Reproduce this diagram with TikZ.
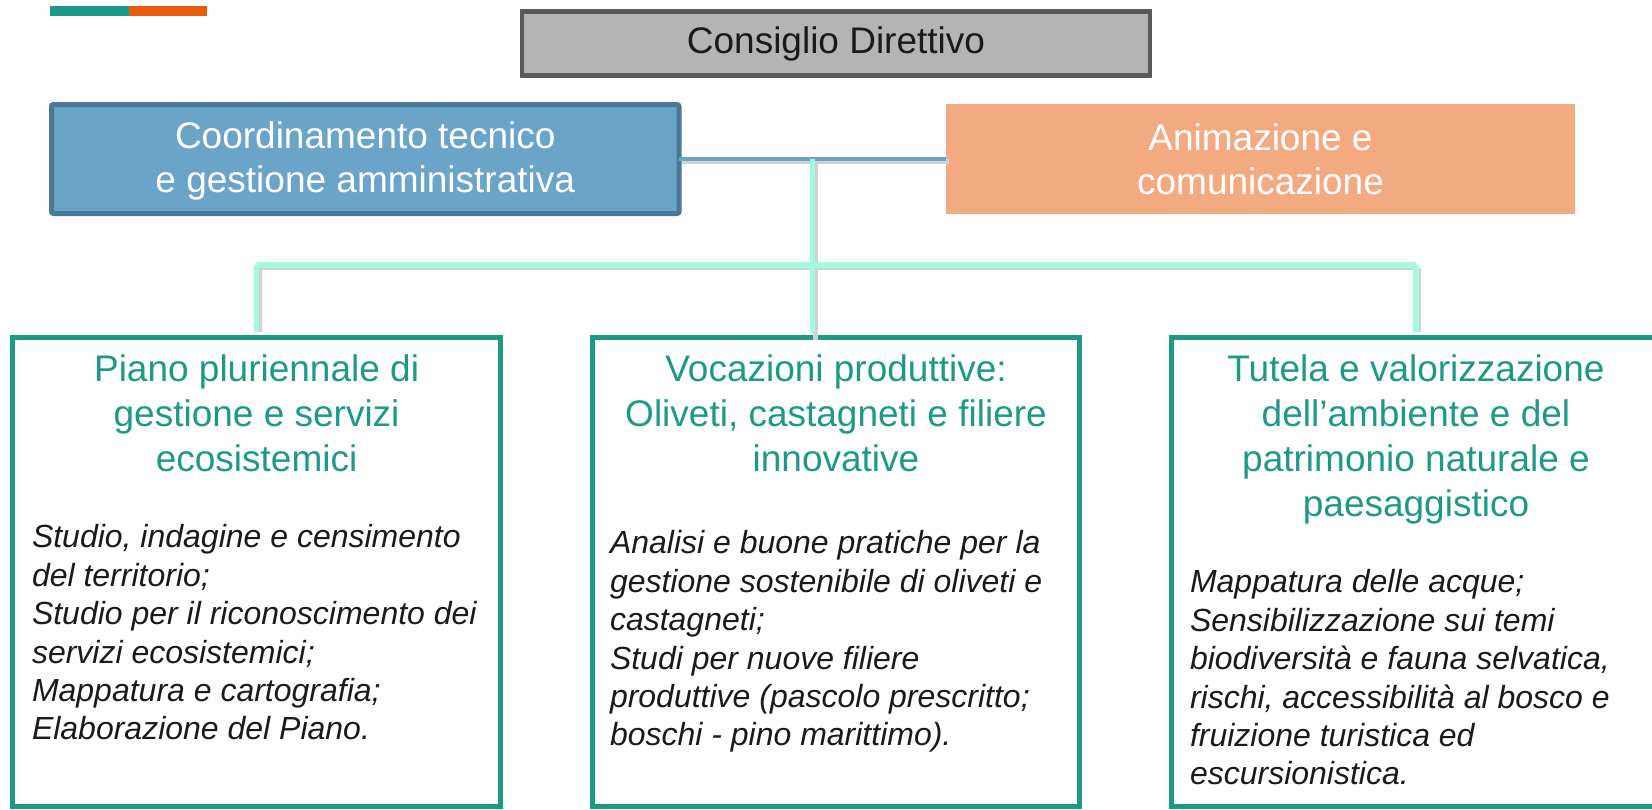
\documentclass[tikz,border=0pt]{standalone}
\usepackage{fontspec}
\setmainfont{Liberation Sans}
\definecolor{barteal}{HTML}{1A9A8B}
\definecolor{barorange}{HTML}{E95A0A}
\definecolor{cdfill}{HTML}{B4B4B4}
\definecolor{cdborder}{HTML}{5A5A5A}
\definecolor{ctfill}{HTML}{6AA4C8}
\definecolor{ctborder}{HTML}{4B7894}
\definecolor{acfill}{HTML}{F3AA80}
\definecolor{mint}{HTML}{A0FBE0}
\definecolor{teal}{HTML}{1E9986}
\definecolor{ink}{HTML}{1A1A1A}
\begin{document}
\begin{tikzpicture}[x=1pt,y=-1pt,
  every node/.style={inner sep=0pt,outer sep=0pt},
  cdbox/.style={draw=cdborder,fill=cdfill,line width=4.5pt,minimum width=628pt,minimum height=64pt,
    font=\fontsize{37}{44}\selectfont,text=ink},
  topbox/.style={minimum height=110pt,align=center,text=white,font=\fontsize{37}{44}\selectfont},
  ctbox/.style={topbox,draw=ctborder,fill=ctfill,line width=5pt,rounded corners=2pt,minimum width=627.5pt,minimum height=109pt},
  acbox/.style={topbox,fill=acfill,minimum width=629pt},
  areabox/.style={draw=teal,line width=5pt,minimum height=468.5pt},
  areatitle/.style={anchor=north,align=center,text=teal,font=\fontsize{37}{45}\selectfont},
  areabody/.style={anchor=north west,align=left,text=ink,font=\itshape\fontsize{32}{38.4}\selectfont},
  shadowline/.style={line width=5pt,black!18,transform canvas={shift={(2.5pt,-2.5pt)}}},
  blueline/.style={line width=4.5pt,ctfill},
  mintline/.style={line width=5.5pt,mint}]
\useasboundingbox (0,0) rectangle (1652,809);

% top accent bar
\fill[barteal] (50,6) rectangle (129,16);
\fill[barorange] (129,6) rectangle (207,16);

% nodes
\node[cdbox] (cd) at (836,43.5) {Consiglio Direttivo};
\node[ctbox] (ct) at (365.25,159) {\strut Coordinamento tecnico\\e gestione amministrativa};
\node[acbox] (ac) at (1260.5,159) {Animazione e\\comunicazione};

\node[areabox,minimum width=488.2pt] (b1) at (256.6,571.75) {};
\node[areabox,minimum width=487pt] (b2) at (836,571.75) {};
\node[areabox,minimum width=488.5pt] (b3) at (1415.75,571.75) {};

% connector coordinates
\coordinate (j) at (812.7,159);
\coordinate (hl) at (256.6,265);
\coordinate (hr) at (1415.75,265);

% shadows
\draw[shadowline] (ct.east) -- (ac.west);
\draw[shadowline] (j) -- (j |- b2.north);
\draw[shadowline] (hl) -- (hr);
\draw[shadowline,shorten >=8pt] (hl) -- (b1.north);
\draw[shadowline,shorten >=8pt] (hr) -- (b3.north);

% connectors
\draw[blueline] (ct.east) -- (ac.west);
\draw[mintline,shorten >=6pt] (j) -- (j |- b2.north);
\draw[mintline] (hl) -- (hr);
\draw[mintline,shorten >=6pt] (hl) -- (b1.north);
\draw[mintline,shorten >=6pt] (hr) -- (b3.north);

% area texts
\node[areatitle] (t1) at (256.6,349.5) {\strut Piano pluriennale di\\gestione e servizi\\ecosistemici};
\node[areabody] (d1) at (32,521.1) {\strut Studio, indagine e censimento\\del territorio;\\Studio per il riconoscimento dei\\servizi ecosistemici;\\Mappatura e cartografia;\\Elaborazione del Piano.};

\node[areatitle] (t2) at (836,349.5) {\strut Vocazioni produttive:\\Oliveti, castagneti e filiere\\innovative};
\node[areabody] (d2) at (610,527.1) {\strut Analisi e buone pratiche per la\\gestione sostenibile di oliveti e\\castagneti;\\Studi per nuove filiere\\produttive (pascolo prescritto;\\boschi - pino marittimo).};

\node[areatitle] (t3) at (1416,349.5) {\strut Tutela e valorizzazione\\dell’ambiente e del\\patrimonio naturale e\\paesaggistico};
\node[areabody] (d3) at (1190,566.1) {\strut Mappatura delle acque;\\Sensibilizzazione sui temi\\biodiversità e fauna selvatica,\\rischi, accessibilità al bosco e\\fruizione turistica ed\\escursionistica.};
\end{tikzpicture}
\end{document}
